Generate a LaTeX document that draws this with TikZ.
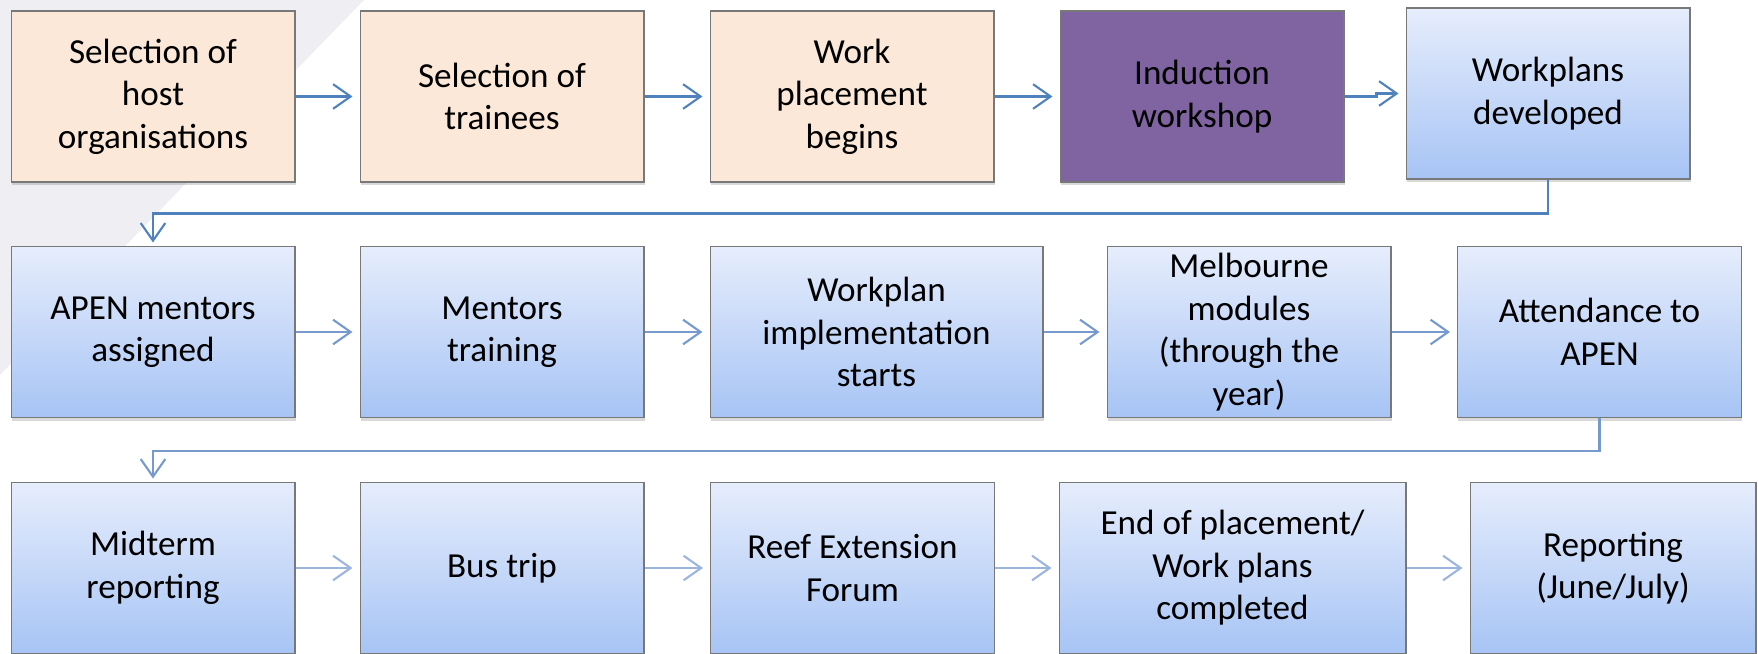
\documentclass[tikz,border=0pt]{standalone}
\usepackage{fontspec}
\setmainfont{Carlito}
\usetikzlibrary{arrows.meta}
\usetikzlibrary{shadows}

\definecolor{peach}{RGB}{252,232,217}
\definecolor{plum}{RGB}{128,100,162}
\definecolor{skytop}{RGB}{230,237,252}
\definecolor{skybottom}{RGB}{167,196,245}
\definecolor{edgegray}{RGB}{120,120,120}
\definecolor{linkdark}{RGB}{79,129,189}
\definecolor{linkmid}{RGB}{118,153,206}
\definecolor{linklight}{RGB}{155,181,222}
\definecolor{slide}{RGB}{238,238,243}

\tikzset{
  stage/.style={draw=edgegray, line width=0.6pt,
    minimum width=5.68cm, minimum height=3.42cm,
    align=center, inner sep=0pt, font=\fontsize{20}{24.2}\selectfont,
    drop shadow={shadow xshift=0.5pt, shadow yshift=-1.8pt, opacity=0.3}},
  peachbox/.style={stage, fill=peach},
  plumbox/.style={stage, fill=plum},
  bluebox/.style={stage, top color=skytop, bottom color=skybottom},
  link/.style={line width=1.2pt, -{Straight Barb[length=10pt,width=14pt]}, shorten >=4pt}
}

\begin{document}
\begin{tikzpicture}[x=0.02cm, y=-0.02cm]
    \useasboundingbox (0,0) rectangle (1758,653);
    % pale corner of the slide
    \fill [slide] (0,0) -- (364,0) -- (0,375) -- cycle;

    % first row
    \node [peachbox] (host) at (153,96.5) {Selection of\\host\\organisations};
    \node [peachbox] (trainees) at (502,96.5) {Selection of\\trainees};
    \node [peachbox] (begins) at (852,96.5) {Work\\placement\\begins};
    \node [plumbox] (induction) at (1202,96.5) {Induction\\workshop};
    \node [bluebox] (plans) at (1548,93.5) {Workplans\\developed};

    % second row
    \node [bluebox] (mentors) at (153,332) {APEN mentors\\assigned};
    \node [bluebox] (training) at (502,332) {Mentors\\training};
    \node [bluebox, minimum width=6.66cm] (starts) at (876.5,332) {Workplan\\implementation\\starts};
    \node [bluebox] (melbourne) at (1249,332) {Melbourne\\modules\\(through the\\year)};
    \node [bluebox] (apen) at (1599.5,332) {Attendance to\\APEN};

    % third row
    \node [bluebox] (midterm) at (153,568) {Midterm\\reporting};
    \node [bluebox] (bus) at (502,568) {Bus trip};
    \node [bluebox] (forum) at (852.5,568) {Reef Extension\\Forum};
    \node [bluebox, minimum width=6.94cm] (end) at (1232.5,568) {End of placement/\\Work plans\\completed};
    \node [bluebox, minimum width=5.72cm] (report) at (1613,568) {Reporting\\(June/July)};

    % links
    \foreach \a/\b in {host/trainees, trainees/begins, begins/induction}
      \draw [link, linkdark] (\a) -- (\b);
    \draw [link, linkdark] (induction.east) -- ++(32,0) |- (plans.west);
    \draw [link, linkdark, shorten >=2pt] (plans.south) -- ++(0,34) -| (mentors.north);

    \foreach \a/\b in {mentors/training, training/starts, starts/melbourne, melbourne/apen}
      \draw [link, linkmid] (\a) -- (\b);
    \draw [link, linkmid, shorten >=2pt] (apen.south) -- ++(0,33) -| (midterm.north);

    \foreach \a/\b in {midterm/bus, bus/forum, forum/end, end/report}
      \draw [link, linklight] (\a) -- (\b);
\end{tikzpicture}
\end{document}
